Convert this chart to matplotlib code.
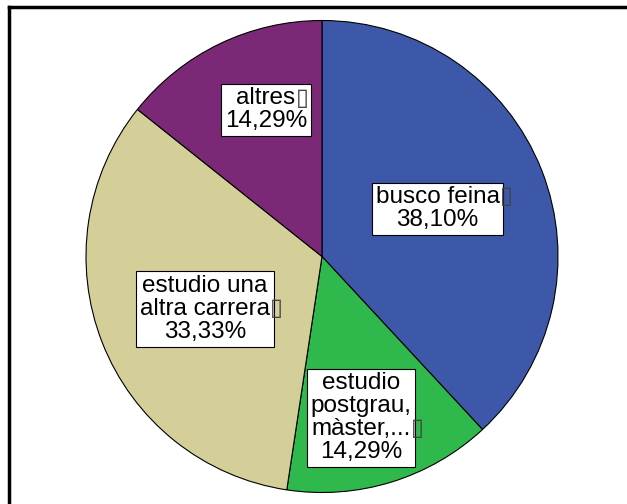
import matplotlib
matplotlib.use('Agg')

import matplotlib.pyplot as plt
import numpy as np

# slice data, clockwise from 12 o'clock
categories = ['busco feina', 'estudio\npostgrau,\nmàster,...', 'estudio una\naltra carrera', 'altres']
percents = [38.10, 14.29, 33.33, 14.29]
colors = ['#3d58a9', '#2fb84b', '#d4cf98', '#7b2977']

# label placement: fraction of radius and angle nudge (deg) from slice middle
label_dist = [0.53, 0.704, 0.543, 0.665]
label_turn = [1.0, -3.5, 2.8, -4.8]

plt.rcParams['font.family'] = ['Liberation Sans', 'DejaVu Sans']

W, H = 627, 504
FS = 17.5
fig = plt.figure(figsize=(W / 100, H / 100), dpi=100)
ax = fig.add_axes([0, 0, 1, 1])

cx, cy, R = 322, H - 256.5, 236
wedges, _ = ax.pie(percents, colors=colors, startangle=90, counterclock=False,
                   center=(cx, cy), radius=R, frame=True,
                   wedgeprops=dict(edgecolor='black', linewidth=0.8))
ax.set_xlim(0, W)
ax.set_ylim(0, H)
ax.axis('off')

for w, cat, pct, d, turn in zip(wedges, categories, percents, label_dist, label_turn):
    mid = np.deg2rad((w.theta1 + w.theta2) / 2 + turn)
    x = cx + d * R * np.cos(mid)
    y = cy + d * R * np.sin(mid)
    lines = cat.split('\n')
    txt = cat + '\n' + ('%.2f%%' % pct).replace('.', ',')
    t = ax.text(x, y, txt, ha='center', va='center', fontsize=FS,
                linespacing=1.06,
                bbox=dict(boxstyle='square,pad=0.15', fc='white', ec='black', lw=0.8))
    # the little missing-glyph box after the last text line
    n = len(lines) + 1
    last = len(lines) - 1
    frac_y = 1 - (last + 0.45) / n
    fig.canvas.draw()
    bb = t.get_window_extent()
    tmp = ax.text(0, 0, lines[last], fontsize=FS)
    lwidth = tmp.get_window_extent().width
    tmp.remove()
    xr = (bb.x0 + bb.x1) / 2 + lwidth / 2
    yr = bb.y0 + frac_y * bb.height
    fig.text(xr / W, yr / H, '\u25af', fontsize=17, color='#444444',
             family='DejaVu Sans', ha='left', va='center', zorder=5)

# outer frame (left and top edges)
fig.add_artist(plt.Line2D([9 / W, 9 / W], [0, 1 - 7 / H], color='black', lw=2.5))
fig.add_artist(plt.Line2D([9 / W, 1], [1 - 7 / H, 1 - 7 / H], color='black', lw=2.5))

plt.savefig('out.png', dpi=100)
